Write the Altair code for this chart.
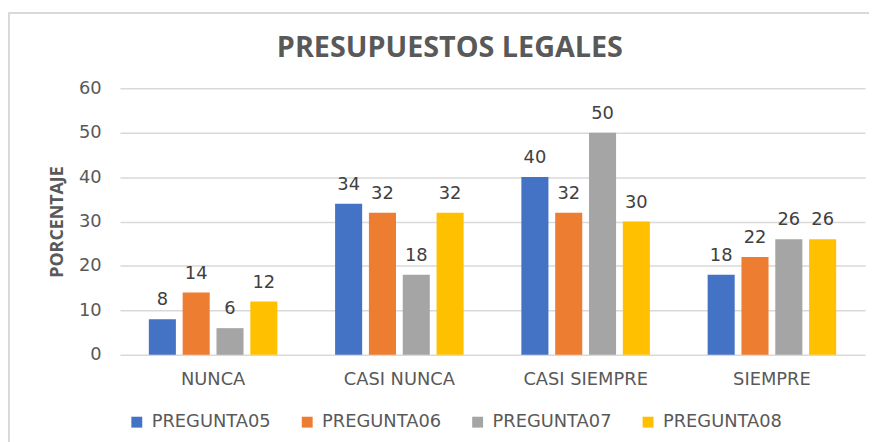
import altair as alt
import pandas as pd

categories = ["NUNCA", "CASI NUNCA", "CASI SIEMPRE", "SIEMPRE"]
series = ["PREGUNTA05", "PREGUNTA06", "PREGUNTA07", "PREGUNTA08"]
pregunta05 = [8, 34, 40, 18]
pregunta06 = [14, 32, 32, 22]
pregunta07 = [6, 18, 50, 26]
pregunta08 = [12, 32, 30, 26]
colors = ["#4472C4", "#ED7D31", "#A5A5A5", "#FFC000"]
chart_title = "PRESUPUESTOS LEGALES"

rows = []
for s, vals in zip(series, [pregunta05, pregunta06, pregunta07, pregunta08]):
    for c, v in zip(categories, vals):
        rows.append({"categoria": c, "serie": s, "valor": v})
df = pd.DataFrame(rows)
one = pd.DataFrame({"t": [chart_title]})

W, H = 752, 269
LEFT, TOP = 113, 79
LABEL_FONT = "DejaVu Sans"

x = alt.X("categoria:N", sort=categories,
          scale=alt.Scale(paddingInner=0.31, paddingOuter=0.155),
          axis=alt.Axis(title=None, labelAngle=0, ticks=False, domain=False, grid=False,
                        labelPadding=16, labelFont=LABEL_FONT,
                        labelFontSize=18, labelColor="#595959"))
xo = alt.XOffset("serie:N", sort=series,
                 scale=alt.Scale(paddingInner=0.2, paddingOuter=0))
y = alt.Y("valor:Q", scale=alt.Scale(domain=[0, 60]),
          axis=alt.Axis(title="PORCENTAJE", values=[0, 10, 20, 30, 40, 50, 60],
                        ticks=False, domain=False, labelPadding=19,
                        labelFont=LABEL_FONT, labelFontSize=18, labelColor="#595959",
                        titleFont="Open Sans", titleFontSize=18, titleFontWeight="bold",
                        titleColor="#595959", titlePadding=12,
                        gridColor="#D9D9D9", gridWidth=1.5))

border = alt.Chart(one).mark_rect(fill="transparent", stroke="#D9D9D9", strokeWidth=2).encode(
    x=alt.value(9 - 8 - LEFT), x2=alt.value(800), y=alt.value(11 - 8 - TOP), y2=alt.value(400)
)

title = alt.Chart(one).mark_text(font="Open Sans", fontSize=29, fontWeight="bold",
                                 color="#595959", baseline="middle", align="center").encode(
    x=alt.value(454 - 8 - LEFT), y=alt.value(46 - 8 - TOP), text="t:N"
)

bars = alt.Chart(df).mark_bar().encode(
    x=x, xOffset=xo, y=y,
    color=alt.Color("serie:N", sort=series,
                    scale=alt.Scale(domain=series, range=colors),
                    legend=alt.Legend(title=None, orient="none", direction="horizontal",
                                      columns=4, legendX=8, legendY=328, padding=0,
                                      symbolType="square", symbolSize=121,
                                      symbolStrokeWidth=0, labelOffset=6,
                                      columnPadding=27, labelFont=LABEL_FONT,
                                      labelFontSize=18, labelColor="#595959"))
)

labels = alt.Chart(df).mark_text(baseline="middle", dy=-19, font=LABEL_FONT,
                                 fontSize=18, color="#404040").encode(
    x=x, xOffset=xo, y=y, text="valor:Q"
)

chart = alt.layer(border, title, bars, labels).properties(
    width=W, height=H,
    background="white",
    autosize=alt.AutoSizeParams(type="none"),
    padding={"left": LEFT, "top": TOP, "right": 869 - LEFT - W, "bottom": 434 - TOP - H},
).configure_view(strokeWidth=0, stroke="transparent").configure_axisX(grid=False)

chart.save("out.html", embed_options={"renderer": "svg", "actions": False})
